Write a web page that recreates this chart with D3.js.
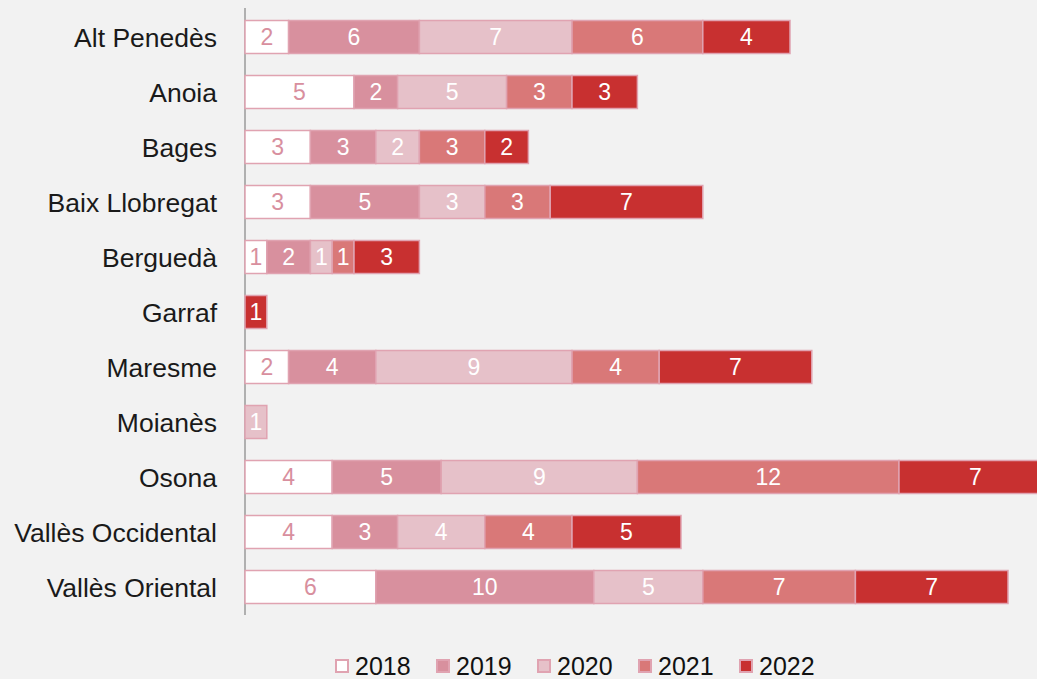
<!DOCTYPE html>
<html><head><meta charset="utf-8">
<script src="https://cdn.jsdelivr.net/npm/d3@7"></script>
<style>
html,body{margin:0;padding:0;background:#f2f2f2;overflow:hidden;}
svg{display:block;font-family:"Liberation Sans",Arial,sans-serif;}
</style></head><body>
<svg id="c" width="1037" height="679"></svg>
<script>
const categories = ["Alt Penedès","Anoia","Bages","Baix Llobregat","Berguedà","Garraf","Maresme","Moianès","Osona","Vallès Occidental","Vallès Oriental"];
const years = ["2018","2019","2020","2021","2022"];
const v2018 = [2,5,3,3,1,0,2,0,4,4,6];
const v2019 = [6,2,3,5,2,0,4,0,5,3,10];
const v2020 = [7,5,2,3,1,0,9,1,9,4,5];
const v2021 = [6,3,3,3,1,0,4,0,12,4,7];
const v2022 = [4,3,2,7,3,1,7,0,7,5,7];
const colors = ["#ffffff","#d8909e","#e6c1c9","#d97878","#c83030"];
const textColors = ["#d88f9e","#ffffff","#ffffff","#ffffff","#ffffff"];

const series = [v2018,v2019,v2020,v2021,v2022];
const rows = categories.map((c,i)=>{const o={cat:c}; years.forEach((y,j)=>o[y]=series[j][i]); return o;});
const stack = d3.stack().keys(years)(rows);

const svg = d3.select("#c");
const x0 = 245;
const x = d3.scaleLinear().domain([0,35]).range([x0, 1008]);
const y = d3.scaleBand().domain(categories).range([9.5, 614.5]).paddingInner(0.4).paddingOuter(0.2);

svg.append("line").attr("x1",x0).attr("x2",x0).attr("y1",8).attr("y2",615)
  .attr("stroke","#9a9a9a").attr("stroke-width",1.5);

stack.forEach((s,j)=>{
  const g = svg.append("g");
  s.forEach((d,i)=>{
    const v = d[1]-d[0];
    if(v<=0) return;
    g.append("rect").attr("x",x(d[0])).attr("y",y(categories[i]))
      .attr("width",x(d[1])-x(d[0])).attr("height",y.bandwidth())
      .attr("fill",colors[j]).attr("stroke","#e0a3b1").attr("stroke-width",1.5);
    g.append("text").attr("x",(x(d[0])+x(d[1]))/2).attr("y",y(categories[i])+y.bandwidth()/2)
      .attr("dy","0.36em").attr("text-anchor","middle").attr("font-size",23)
      .attr("fill",textColors[j]).text(v);
  });
});

svg.append("g").selectAll("text").data(categories).join("text")
  .attr("x",217).attr("y",d=>y(d)+y.bandwidth()/2).attr("dy","0.36em")
  .attr("text-anchor","end").attr("font-size",26.5).attr("fill","#1a1a1a")
  .text(d=>d);

const lg = svg.append("g");
years.forEach((yr,j)=>{
  const lx = 335 + j*101;
  lg.append("rect").attr("x",lx+1).attr("y",660).attr("width",12).attr("height",12)
    .attr("fill",colors[j]).attr("stroke","#e0a3b1").attr("stroke-width",2);
  lg.append("text").attr("x",lx+20).attr("y",666).attr("dy","0.36em")
    .attr("font-size",25).attr("fill","#111").text(yr);
});
</script>
</body></html>
